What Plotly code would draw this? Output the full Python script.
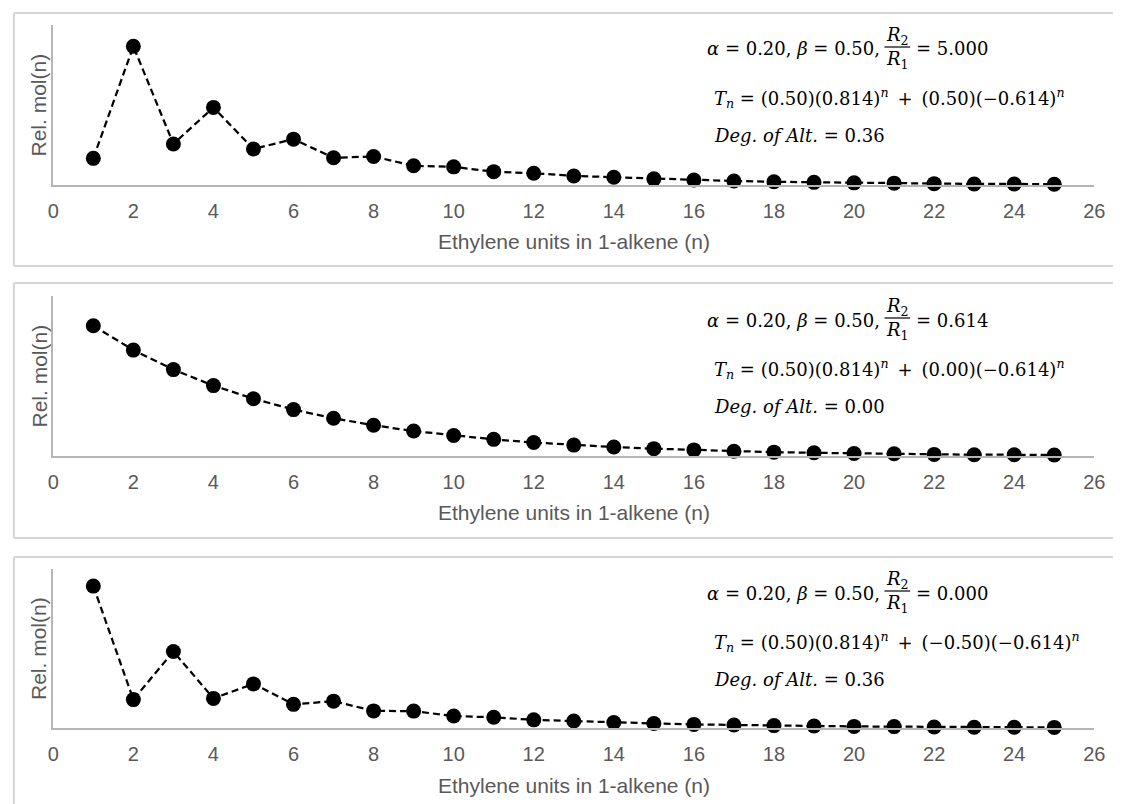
import plotly.graph_objects as go

W, H = 1124, 804

n_values = list(range(1, 26))
x_tick_labels = [str(v) for v in range(0, 27, 2)]

# Relative mol(n)
rel_mol_top = [0.100, 0.520, 0.154, 0.291, 0.135, 0.172, 0.102, 0.107, 0.072, 0.068,
               0.050, 0.044, 0.034, 0.029, 0.023, 0.019, 0.015, 0.012, 0.010, 0.008,
               0.007, 0.005, 0.004, 0.004, 0.003]
rel_mol_mid = [0.407, 0.331, 0.270, 0.220, 0.179, 0.145, 0.118, 0.096, 0.078, 0.064,
               0.052, 0.042, 0.034, 0.028, 0.023, 0.019, 0.015, 0.012, 0.010, 0.008,
               0.007, 0.005, 0.004, 0.004, 0.003]
rel_mol_bot = [0.714, 0.143, 0.385, 0.149, 0.222, 0.119, 0.135, 0.086, 0.085, 0.060,
               0.054, 0.041, 0.035, 0.028, 0.023, 0.018, 0.015, 0.012, 0.010, 0.008,
               0.007, 0.005, 0.004, 0.004, 0.003]

ratio_labels = ["5.000", "0.614", "0.000"]
coef_labels = ["0.50", "0.00", "\u22120.50"]
alt_labels = ["0.36", "0.00", "0.36"]
y_max = [0.6, 0.5, 0.8]

def px(x):
    return x / W

def py(y):
    return 1 - y / H

AX_GRAY = "#b5b5b5"
TXT_GRAY = "#595959"
BORDER = "#d5d5d5"
SANS = "Liberation Sans, Arial, sans-serif"
SERIF = "DejaVu Serif, Liberation Serif, serif"

# panel pixel geometry: (axis top, axis bottom, offset)
panels = [(25, 185, 0), (296, 456, 271), (569, 728, 544)]
borders = [(13, 266), (283, 538), (557, 830)]

fig = go.Figure()
series = [rel_mol_top, rel_mol_mid, rel_mol_bot]

layout = dict(
    width=W, height=H, margin=dict(l=0, r=0, t=0, b=0),
    paper_bgcolor="white", plot_bgcolor="white", showlegend=False,
    shapes=[], annotations=[],
)

for i, (vals, (ytop, ybot, off)) in enumerate(zip(series, panels)):
    k = "" if i == 0 else str(i + 1)
    fig.add_trace(go.Scatter(
        x=n_values, y=vals, mode="lines+markers",
        line=dict(color="black", width=2.25, dash="7px,4px"),
        marker=dict(color="black", size=15),
        cliponaxis=False,
        xaxis="x" + k, yaxis="y" + k,
    ))
    layout["xaxis" + k] = dict(
        domain=[px(48), px(1105)], anchor="y" + k, range=[0, 26],
        tickvals=list(range(0, 27, 2)), ticktext=x_tick_labels,
        showline=True, linecolor=AX_GRAY, linewidth=1.5,
        showgrid=False, zeroline=False, ticks="",
        tickfont=dict(family=SANS, size=20, color=TXT_GRAY),
        ticklabelstandoff=7, ticklabeloverflow="allow",
    )
    layout["yaxis" + k] = dict(
        domain=[py(ybot), py(ytop)], anchor="x" + k, range=[0, y_max[i]],
        showline=True, linecolor=AX_GRAY, linewidth=1.5,
        showgrid=False, zeroline=False, showticklabels=False, ticks="",
    )
    # axis titles
    layout["annotations"].append(dict(
        text="Ethylene units in 1-alkene (n)", xref="paper", yref="paper",
        x=px(577), y=py(241 + off), showarrow=False, xanchor="center", yanchor="middle",
        font=dict(family=SANS, size=21, color=TXT_GRAY)))
    layout["annotations"].append(dict(
        text="Rel. mol(n)", xref="paper", yref="paper", textangle=-90,
        x=px(33), y=py((ytop + ybot) / 2), showarrow=False, xanchor="center", yanchor="middle",
        font=dict(family=SANS, size=21, color=TXT_GRAY)))
    # border box: top, bottom and left edges (right edge lies off the picture)
    b0, b1 = borders[i]
    for (x0, y0, x1, y1) in [(8, b0, 1124, b0), (8, b1, 1124, b1), (8, b0, 8, b1)]:
        layout["shapes"].append(dict(
            type="line", xref="paper", yref="paper",
            x0=px(x0), x1=px(x1), y0=py(y0), y1=py(y1),
            line=dict(color=BORDER, width=2), layer="below"))
    # equation text
    mf = dict(family=SERIF, size=18, color="black")
    layout["annotations"].append(dict(
        text="<i>\u03b1</i> = 0.20, <i>\u03b2</i> = 0.50,", xref="paper", yref="paper",
        x=px(889), y=py(49 + off), xanchor="right", yanchor="middle", showarrow=False, font=mf))
    layout["annotations"].append(dict(
        text="<i>R</i><sub>2</sub>", xref="paper", yref="paper",
        x=px(905), y=py(36 + off), xanchor="center", yanchor="middle", showarrow=False, font=mf))
    layout["annotations"].append(dict(
        text="<i>R</i><sub>1</sub>", xref="paper", yref="paper",
        x=px(905), y=py(60 + off), xanchor="center", yanchor="middle", showarrow=False, font=mf))
    layout["shapes"].append(dict(
        type="line", xref="paper", yref="paper",
        x0=px(892), x1=px(918), y0=py(47 + off), y1=py(47 + off),
        line=dict(color="black", width=1.2)))
    layout["annotations"].append(dict(
        text="= " + ratio_labels[i], xref="paper", yref="paper",
        x=px(922), y=py(49 + off), xanchor="left", yanchor="middle", showarrow=False, font=mf))
    layout["annotations"].append(dict(
        text="<i>T<sub>n</sub></i> = (0.50)(0.814)<sup><i>n</i></sup>\u2002+\u2002(" + coef_labels[i]
             + ")(\u22120.614)<sup><i>n</i></sup>",
        xref="paper", yref="paper",
        x=px(717), y=py(98 + off), xanchor="left", yanchor="middle", showarrow=False, font=mf))
    layout["annotations"].append(dict(
        text="<i>Deg. of Alt.</i> = " + alt_labels[i], xref="paper", yref="paper",
        x=px(717), y=py(135 + off), xanchor="left", yanchor="middle", showarrow=False, font=mf))

fig.update_layout(**layout)
fig.write_html(
    "out.html",
    config={"displayModeBar": False},
    post_script="document.body.style.margin='0';document.body.style.overflow='hidden';",
)
